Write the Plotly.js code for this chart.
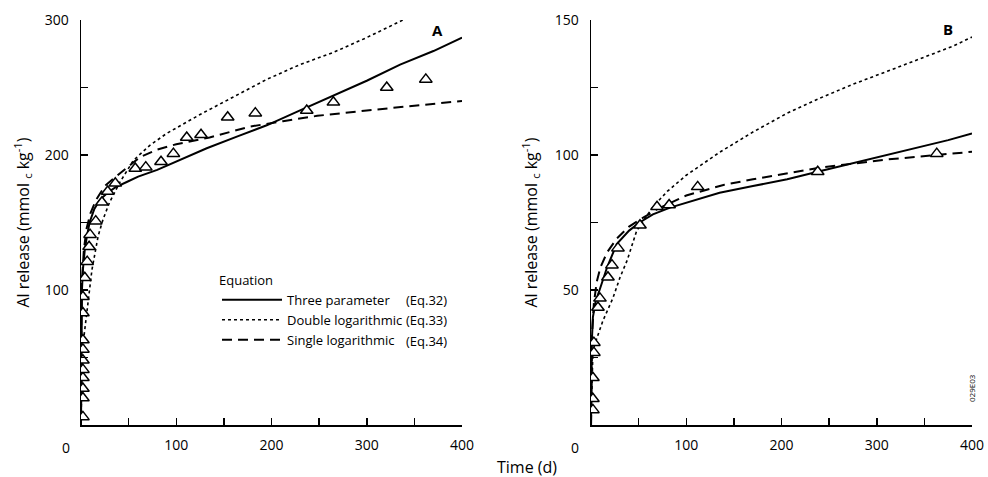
<!DOCTYPE html>
<html>
<head>
<meta charset="utf-8">
<script src="https://cdn.plot.ly/plotly-3.0.1.min.js"></script>
<style>html,body{margin:0;padding:0;background:#fff;}#chart{width:988px;height:477px;}</style>
</head>
<body>
<div id="chart"></div>
<script>
// ---------- Panel A data ----------
const obsTimeA = [2,2,2,2,2,2,2,2,2,2,4,6.5,8.5,9.5,15.5,22,28,36,57,68,84,97,111,126,154,183,237,265,321,362];
const obsAlA   = [6,20,27,35,41,48,56,63,83,95,109,121,132,141,151,165,173,179,190,191,195,201,213,215,228,231,233,239,250,256];

const threeTimeA = [0,0.1,0.3,1,2,4,6,9,14,20,28,36,48,60,80,100,132,165,195,230,265,300,335,370,400];
const threeAlA   = [0,40,70,100,115,130,139,150,160,167,172,176,180,184,189,195,205,214,222,233,244,255,267,277,287];

const dblTimeA = [0,1,3,6.3,11.5,18,23,30,41,55,72,90,125,160,195,230,265,300,338];
const dblAlA   = [0,40,65,85,115,140,152,165,180,196,207,216,230,243,256,267,276,287,300];

const sglTimeA = [0.01,0.02,0.1,0.3,1,3,6,10,16,25,35,50,62,80,100,135,177,212,248,300,353,400];
const sglAlA   = [3,19,55,80,106,130,146,157,167,177,183,192,198.5,204,208,213,221,225,229,233,237,240];

// ---------- Panel B data ----------
const obsTimeB = [2,2,2,3,3,7.3,9.4,17.8,22,28.3,51.4,69.3,82,112,238,363];
const obsAlB   = [5.6,9.7,17.5,26.8,30.5,43.5,46.9,54.7,59.2,65.5,74,80.8,81.5,88.2,93.8,100.5];

const threeTimeB = [0,0.3,1,2,5,9,17,27,40,51,65,83,110,135,170,206,240,275,310,345,375,400];
const threeAlB   = [0,20,32,40,46,50,58.5,67,72,75,78,80.5,83.5,86,88.5,91,94,97,100,103,105.5,108];

const dblTimeB = [0,1,2,6,12.6,23,30.5,38,48,65,80,100,135,170,206,240,275,311,345,380,400];
const dblAlB   = [0,18,27.5,32,38.7,47,54.7,61,72,80.8,86.5,92.5,101,108.5,115.5,121,126.2,131,135.5,140.3,143.7];

const sglTimeB = [0.06,0.1,0.3,1,3,6,10,17,27,40,51,70,100,140,170,240,310,360,400];
const sglAlB   = [0,6,18,33,45,53,58.5,64,69,73.5,76,80,85,89,91,95.3,98.3,100,101.2];

// ---------- Tick labels ----------
const xTickVals = [0,50,100,150,200,250,300,350,400];
const xTickText = ['','','100','','200','','300','','400'];
const yTickValsA = [50,100,150,200,250,300];
const yTickTextA = ['','100','','200','','300'];
const yTickValsB = [25,50,75,100,125,150];
const yTickTextB = ['','50','','100','','150'];

const legendNames = ['Three parameter','Double logarithmic','Single logarithmic'];
const eqLabels = ['(Eq.32)','(Eq.33)','(Eq.34)'];

const FONT = 'Open Sans, Noto Sans, sans-serif';
const W = 988, H = 477;
const px = v => v / W;
const py = v => 1 - v / H;

const solid = {color:'#000', width:2};
const dotted = {color:'#000', width:1.6, dash:'dot'};
const dashed = {color:'#000', width:2, dash:'10px,6px'};
const tri = {symbol:'triangle-up', size:11, color:'#fff', line:{color:'#000', width:1.5}};

const traces = [
  {x:threeTimeA, y:threeAlA, mode:'lines', line:solid, name:legendNames[0], xaxis:'x', yaxis:'y', showlegend:true},
  {x:dblTimeA, y:dblAlA, mode:'lines', line:dotted, name:legendNames[1], xaxis:'x', yaxis:'y', showlegend:true},
  {x:sglTimeA, y:sglAlA, mode:'lines', line:dashed, name:legendNames[2], xaxis:'x', yaxis:'y', showlegend:true},
  {x:obsTimeA, y:obsAlA, mode:'markers', marker:tri, xaxis:'x', yaxis:'y', showlegend:false, name:'Observed A'},
  {x:threeTimeB, y:threeAlB, mode:'lines', line:solid, xaxis:'x2', yaxis:'y2', showlegend:false, name:legendNames[0]},
  {x:dblTimeB, y:dblAlB, mode:'lines', line:dotted, xaxis:'x2', yaxis:'y2', showlegend:false, name:legendNames[1]},
  {x:sglTimeB, y:sglAlB, mode:'lines', line:dashed, xaxis:'x2', yaxis:'y2', showlegend:false, name:legendNames[2]},
  {x:obsTimeB, y:obsAlB, mode:'markers', marker:tri, xaxis:'x2', yaxis:'y2', showlegend:false, name:'Observed B'}
];

const axisCommon = {
  showline:true, linecolor:'#000', linewidth:1.5, mirror:false,
  ticks:'inside', ticklen:7, tickwidth:1.5, tickcolor:'#000',
  showgrid:false, zeroline:false, tickmode:'array',
  tickfont:{family:FONT, size:14, color:'#000'}, automargin:false, fixedrange:true
};

const yTitle = 'Al release (mmol <sub>c</sub> kg<sup>-1</sup>)';
const yDom = [py(425), py(20)];

const ann = (text, x, y, extra) => Object.assign({text:text, x:px(x), y:py(y), xref:'paper', yref:'paper',
  xanchor:'center', yanchor:'middle', showarrow:false, font:{family:FONT, size:14, color:'#000'}}, extra || {});

const layout = {
  width:W, height:H,
  margin:{l:0, r:0, t:0, b:0},
  paper_bgcolor:'#fff', plot_bgcolor:'#fff',
  font:{family:FONT, color:'#000', size:13},
  xaxis:Object.assign({}, axisCommon, {domain:[px(81), px(462)], range:[0,400], anchor:'y', tickvals:xTickVals, ticktext:xTickText, ticklabelstandoff:7}),
  yaxis:Object.assign({}, axisCommon, {domain:yDom, range:[0,300], anchor:'x', tickvals:yTickValsA, ticktext:yTickTextA, ticklabelstandoff:8,
    title:{text:yTitle, font:{family:FONT, size:16, color:'#000'}, standoff:11}}),
  xaxis2:Object.assign({}, axisCommon, {domain:[px(591), px(972)], range:[0,400], anchor:'y2', tickvals:xTickVals, ticktext:xTickText, ticklabelstandoff:7}),
  yaxis2:Object.assign({}, axisCommon, {domain:yDom, range:[0,150], anchor:'x2', tickvals:yTickValsB, ticktext:yTickTextB, ticklabelstandoff:8,
    title:{text:yTitle, font:{family:FONT, size:16, color:'#000'}, standoff:13}}),
  showlegend:true,
  legend:{
    x:px(217), y:py(268), xanchor:'left', yanchor:'top',
    bgcolor:'rgba(0,0,0,0)', borderwidth:0,
    font:{family:FONT, size:13, color:'#000'},
    title:{text:'Equation', font:{family:FONT, size:13, color:'#000'}},
    itemwidth:60, tracegroupgap:0
  },
  annotations:[
    ann('<b>A</b>', 437, 30, {font:{family:FONT, size:15, color:'#000'}}),
    ann('<b>B</b>', 948, 29, {font:{family:FONT, size:15, color:'#000'}}),
    ann('Time (d)', 527, 467, {font:{family:FONT, size:16, color:'#000'}}),
    ann('0', 66, 447),
    ann('0', 575, 447),
    ann('029E03', 971, 388, {textangle:-90, font:{family:FONT, size:8, color:'#000'}}),
    ann(eqLabels[0], 404, 300, {xanchor:'left', font:{family:FONT, size:13, color:'#000'}}),
    ann(eqLabels[1], 404, 320, {xanchor:'left', font:{family:FONT, size:13, color:'#000'}}),
    ann(eqLabels[2], 404, 341, {xanchor:'left', font:{family:FONT, size:13, color:'#000'}})
  ]
};

Plotly.newPlot('chart', traces, layout, {staticPlot:true, displayModeBar:false});
</script>
</body>
</html>
